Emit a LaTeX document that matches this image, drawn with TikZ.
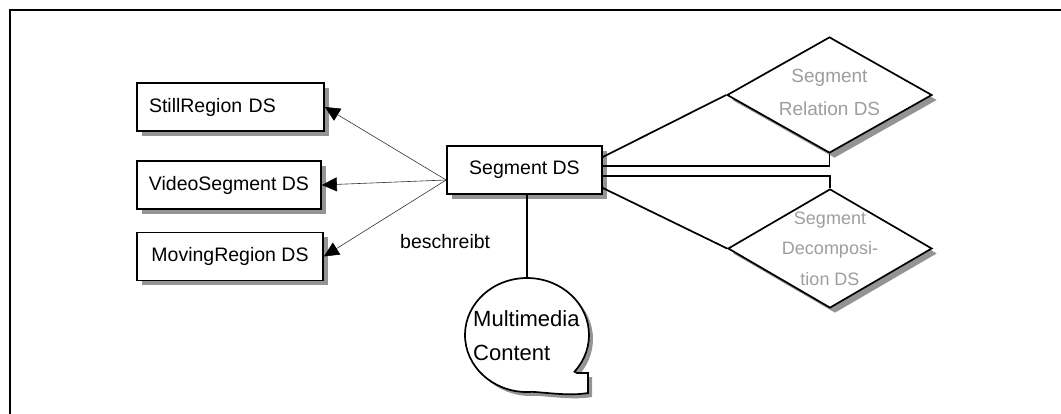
\documentclass[tikz,border=0pt]{standalone}
\usepackage{fontspec}
\setmainfont{Liberation Sans}
\usetikzlibrary{shapes.geometric,shadows,arrows.meta,calc}

% outline of the speech bubble for the content node
\newcommand\bubbleoutline{(577,-373) -- (588,-373) -- (588,-393)
  .. controls (570,-396) and (550,-393) .. (532.4,-391.8)
  arc[start angle=275, end angle=-40, x radius=62pt, y radius=57pt] -- cycle}

\begin{document}
\begin{tikzpicture}[x=1pt,y=1pt,
  lbl/.style={font=\fontsize{19.5}{24}\selectfont},
  shade/.style={drop shadow={shadow xshift=5pt, shadow yshift=-5pt, fill=black!42, opacity=1}},
  dsbox/.style={draw=black, line width=1.7pt, fill=white, minimum height=48pt,
    inner sep=0pt, lbl, shade},
  relbox/.style={diamond, draw=black, line width=1.7pt, fill=white, inner sep=0pt, shade},
  reltext/.style={text=black!38, align=center, inner sep=0pt},
  conn/.style={line width=1.7pt},
  arr/.style={draw=black!80, line width=0.6pt,
    -{Triangle[length=15pt, width=14pt, color=black]}},
]
\useasboundingbox (0,0) rectangle (1061,-414);

% page frame
\draw[line width=2pt] (10,-440) -- (10,-10) -- (1090,-10);

% segment types
\node[dsbox, minimum width=187pt, text width=163pt, align=left] (still) at (230.5,-107) {StillRegion DS};
\node[dsbox, minimum width=184pt] (video) at (229,-185) {VideoSegment DS};
\node[dsbox, minimum width=186pt] (moving) at (230,-256.5) {MovingRegion DS};

% central description scheme
\node[dsbox, minimum width=155pt] (seg) at (524.5,-170) {Segment DS};
\coordinate (src) at ([yshift=-10pt]seg.west);

% relation and decomposition schemes
\node[relbox, minimum width=205pt, minimum height=116pt] (rel) at (829.5,-95) {};
\node[reltext, font=\fontsize{19}{33}\selectfont] (reltxt) at (829.5,-92) {Segment\\Relation DS};
\node[relbox, minimum width=204pt, minimum height=119pt] (dec) at (830,-248.5) {};
\node[reltext, font=\fontsize{18}{30.5}\selectfont] (dectxt) at (830,-248.5) {Segment\\Decomposi-\\tion DS};

% content bubble
\path[fill=black!42, shift={(4pt,-4pt)}] \bubbleoutline;
\draw[line width=1.7pt, fill=white] \bubbleoutline;
\coordinate (mmtop) at (527,-278);
\node[align=left, anchor=west, inner sep=0pt, font=\fontsize{22}{34}\selectfont] (mm) at (473,-336)
  {Multimedia\\Content};

% specialisation arrows
\draw[arr] (src) -- (still.east);
\draw[arr] (src) -- (video.east);
\draw[arr] (src) -- (moving.east);

\node[lbl, anchor=west, inner sep=0pt] (desc) at (400,-242) {beschreibt};

% links to the relation and decomposition schemes
\draw[conn] ([yshift=13pt]seg.east) -- (rel.west);
\draw[conn] ([yshift=4pt]seg.east) -| (rel.south);
\draw[conn] ([yshift=-6pt]seg.east) -| (dec.north);
\draw[conn] ([yshift=-18pt]seg.east) -- (dec.west);

% link to the content
\draw[conn] (mmtop |- seg.south) -- (mmtop);
\end{tikzpicture}
\end{document}
